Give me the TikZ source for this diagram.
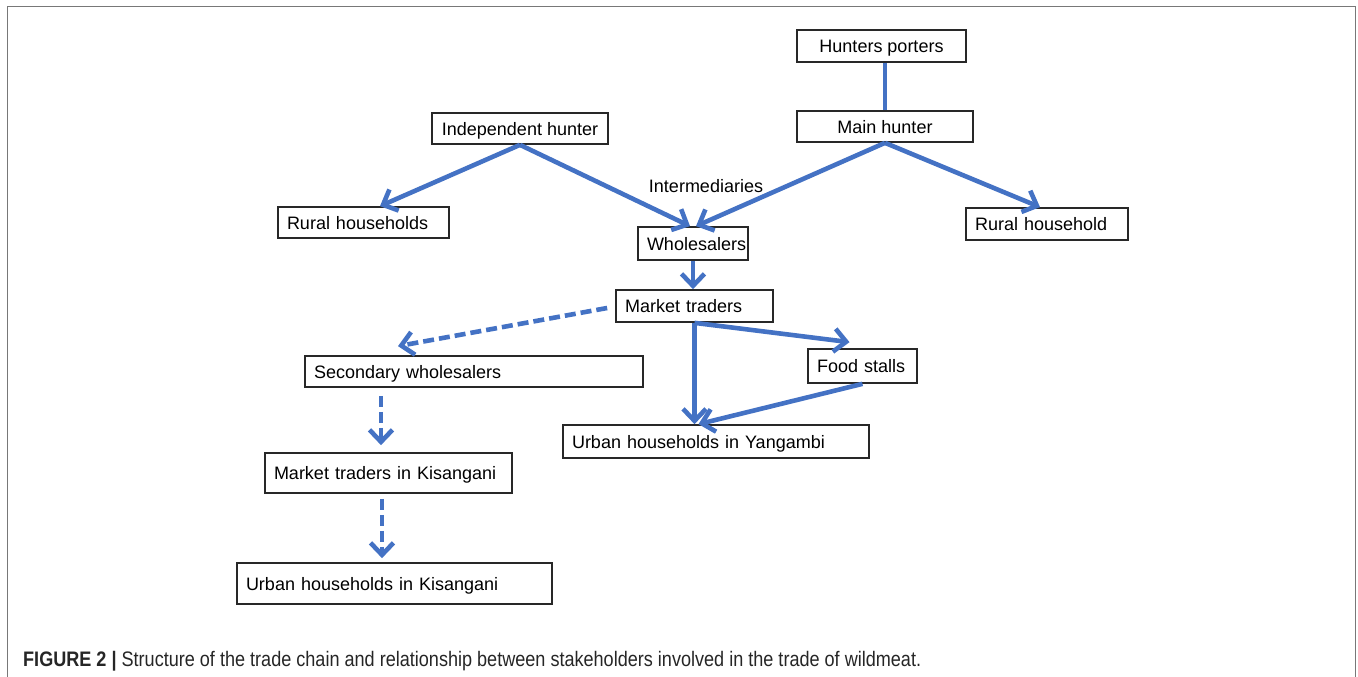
\documentclass[tikz,border=0pt]{standalone}
\usepackage{fontspec}
\usepackage{graphicx}
\setmainfont{Liberation Sans}
\usetikzlibrary{arrows.meta}
\definecolor{arrblue}{RGB}{68,114,196}
\definecolor{boxline}{RGB}{40,40,40}
\definecolor{framegray}{RGB}{120,120,120}
\tikzset{
  bx/.style={draw=boxline, line width=1.7pt, inner xsep=9pt, inner ysep=0pt,
    font=\fontsize{18}{21}\selectfont, text height=13pt, text depth=0pt},
  conn/.style={draw=arrblue, line width=4.6pt},
  arr/.style={conn, -{Straight Barb[length=12pt,width=23pt]}},
  darr/.style={arr, dash pattern=on 11pt off 5pt},
}
\begin{document}
\begin{tikzpicture}[x=1pt,y=-1pt]
\useasboundingbox (0,0) rectangle (1358,677);
% frame
\draw[framegray, line width=1.6pt] (7.5,677) -- (7.5,6.5) -- (1355.5,6.5) -- (1355.5,677);

% nodes
\node[bx, minimum width=169pt, minimum height=32pt] (hp) at (881.5,46) {Hunters porters};
\node[bx, minimum width=176pt, minimum height=31pt] (mh) at (885,126.5) {Main hunter};
\node[bx, minimum width=176pt, minimum height=31pt] (ih) at (520,128.5) {Independent hunter};
\node[bx, minimum height=31pt, text width=153pt, align=left] (rh) at (363.5,222.5) {Rural households};
\node[bx, minimum height=32pt, text width=144pt, align=left] (rhh) at (1047,224) {Rural household};
\node[bx, minimum height=33pt, text width=92pt, align=left] (ws) at (693,243.5) {Wholesalers};
\node[bx, minimum height=32pt, text width=139pt, align=left] (mt) at (694.5,306) {Market traders};
\node[bx, minimum height=34pt, text width=91pt, align=left] (fs) at (862.5,366) {Food stalls};
\node[bx, minimum height=33pt, text width=288pt, align=left] (uy) at (716,441.5) {Urban households in Yangambi};
\node[bx, minimum height=31pt, text width=320pt, align=left] (sw) at (474,371.5) {Secondary wholesalers};
\node[bx, minimum height=40pt, text width=229pt, align=left] (mk) at (388.5,473) {Market traders in Kisangani};
\node[bx, minimum height=41pt, text width=297pt, align=left] (uk) at (394.5,583.5) {Urban households in Kisangani};
\node[font=\fontsize{18}{21}\selectfont, text height=13pt, text depth=0pt, inner sep=0pt] (im) at (706,186) {Intermediaries};

% connectors
\draw[conn] (mh.north |- hp.south) -- (mh.north);
\draw[arr] (ih.south) -- ([xshift=16.5pt]rh.north);
\draw[arr] (ih.south) -- ([xshift=-3pt]ws.north);
\draw[arr] (mh.south) -- ([xshift=3pt]ws.north);
\draw[arr] (mh.south) -- ([xshift=-7pt]rhh.north);
\draw[arr] (ws.south) -- (ws.south |- mt.north);
\draw[arr] (mt.south) -- ([xshift=-13pt,yshift=6pt]fs.north);
\draw[arr] (mt.south) -- (mt.south |- uy.north);
\draw[arr] (fs.south) -- ([xshift=4pt]mt.south |- uy.north);
\draw[darr] ([xshift=-8pt,yshift=-2pt]mt.west) -- ([xshift=-76pt,yshift=9pt]sw.north);
\draw[darr] ([xshift=-7.5pt,yshift=-8pt]mk.north |- sw.south) -- ([xshift=-7.5pt,yshift=7pt]mk.north);
\draw[darr] ([xshift=-12.5pt,yshift=-5pt]uk.north |- mk.south) -- ([xshift=-12.5pt,yshift=4pt]uk.north);

% caption
\node[anchor=base west, inner sep=0pt, text=black!85] (cap) at (23,666)
  {\resizebox{898pt}{\height}{\fontsize{21}{24}\selectfont\textbf{FIGURE 2 |} Structure of the trade chain and relationship between stakeholders involved in the trade of wildmeat.}};
\end{tikzpicture}
\end{document}
